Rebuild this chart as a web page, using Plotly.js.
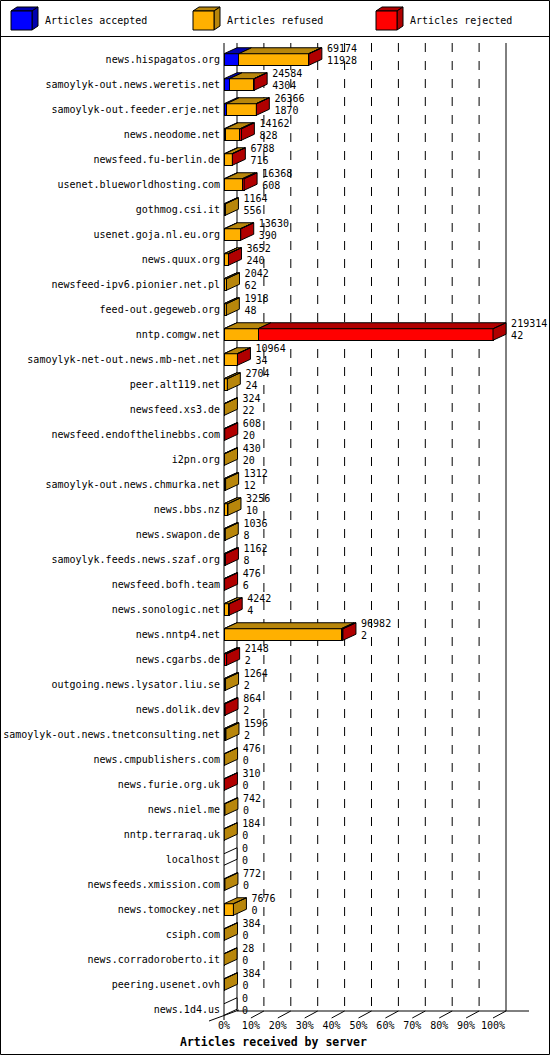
<!DOCTYPE html>
<html>
<head>
<meta charset="utf-8">
<script src="https://cdn.plot.ly/plotly-3.0.1.min.js"></script>
<style>
  html, body { margin: 0; padding: 0; background: #fff; }
  #chart { width: 550px; height: 1055px; }
</style>
</head>
<body>
<div id="chart"></div>
<script>
'use strict';

var servers = [
    'news.hispagatos.org', 'samoylyk-out.news.weretis.net', 'samoylyk-out.feeder.erje.net',
    'news.neodome.net', 'newsfeed.fu-berlin.de', 'usenet.blueworldhosting.com', 'gothmog.csi.it',
    'usenet.goja.nl.eu.org', 'news.quux.org', 'newsfeed-ipv6.pionier.net.pl', 'feed-out.gegeweb.org',
    'nntp.comgw.net', 'samoylyk-net-out.news.mb-net.net', 'peer.alt119.net', 'newsfeed.xs3.de',
    'newsfeed.endofthelinebbs.com', 'i2pn.org', 'samoylyk-out.news.chmurka.net', 'news.bbs.nz',
    'news.swapon.de', 'samoylyk.feeds.news.szaf.org', 'newsfeed.bofh.team', 'news.sonologic.net',
    'news.nntp4.net', 'news.cgarbs.de', 'outgoing.news.lysator.liu.se', 'news.dolik.dev',
    'samoylyk-out.news.tnetconsulting.net', 'news.cmpublishers.com', 'news.furie.org.uk',
    'news.niel.me', 'nntp.terraraq.uk', 'localhost', 'newsfeeds.xmission.com', 'news.tomockey.net',
    'csiph.com', 'news.corradoroberto.it', 'peering.usenet.ovh', 'news.1d4.us'
];

// numbers printed next to each bar
var totals = [69174, 24584, 26366, 14162, 6788, 16368, 1164, 13630, 3652, 2042, 1918,
    219314, 10964, 2704, 324, 608, 430, 1312, 3256, 1036, 1162, 476, 4242,
    96982, 2148, 1264, 864, 1596, 476, 310, 742, 184, 0, 772, 7676, 384, 28, 384, 0];
var accepted = [11928, 4304, 1870, 828, 716, 608, 556, 390, 240, 62, 48,
    42, 34, 24, 22, 20, 20, 12, 10, 8, 8, 6, 4,
    2, 2, 2, 2, 2, 0, 0, 0, 0, 0, 0, 0, 0, 0, 0, 0];

// split
var refused = [57000, 20000, 24300, 12200, 5900, 14300, 608, 13000, 3200, 1980, 1870,
    27700, 10800, 2680, 302, 0, 410, 1300, 3246, 1028, 0, 0, 4000,
    95500, 800, 1262, 0, 1594, 476, 0, 742, 184, 0, 772, 7676, 384, 28, 384, 0];
var rejected = [246, 280, 196, 1134, 172, 1460, 0, 240, 212, 0, 0,
    191572, 130, 0, 0, 588, 0, 0, 0, 0, 1154, 470, 238,
    1480, 1346, 0, 862, 0, 0, 310, 0, 0, 0, 0, 0, 0, 0, 0, 0];

var W = 550, H = 1055;
var ML = 224, MR = 5, MT = 37, MB = 37;
var PW = W - ML - MR, PH = H - MT - MB;
var PXPCT = 2.69;          // pixels per percent
var ROW = 25;              // pixels per row
var DX = 13 / PXPCT;       // depth, in percent
var DY = 6 / ROW;          // depth, in rows
var BARH = 0.46;

var FONT = 'DejaVu Sans Mono, monospace';

function px (x) { return (x - ML) / PW; }
function py (y) { return (H - MB - y) / PH; }

var maxTotal = Math.max.apply(null, totals);
function pct (v) { return v / maxTotal * 100; }

var series = [
    { name: 'Articles accepted', values: accepted, front: '#0000ff', dark: '#0000b0' },
    { name: 'Articles refused', values: refused, front: '#ffb000', dark: '#b8860b' },
    { name: 'Articles rejected', values: rejected, front: '#ff0000', dark: '#b00000' }
];

var rows = servers.map(function (s, i) { return i; });

function pushPoly (xs, ys, pts) {
    pts.forEach(function (p) { xs.push(p[0]); ys.push(p[1]); });
    xs.push(pts[0][0]); ys.push(pts[0][1]);
    xs.push(null); ys.push(null);
}

var traces = [];

// front faces
series.forEach(function (s) {
    traces.push({
        type: 'bar',
        orientation: 'h',
        name: s.name,
        y: rows,
        x: s.values.map(pct),
        width: BARH,
        marker: { color: s.front, line: { color: '#000', width: 1 } },
        hoverinfo: 'none',
        showlegend: false
    });
});

// top and side faces
var faces = series.map(function () { return { x: [], y: [] }; });
var empty = { x: [], y: [] };
var labelX = [];

rows.forEach(function (i) {
    var yT = i - BARH / 2, yB = i + BARH / 2;
    var x0 = 0, last = -1, lastX = 0;
    series.forEach(function (s, k) {
        var v = s.values[i];
        if (v <= 0) return;
        var x1 = x0 + pct(v);
        pushPoly(faces[k].x, faces[k].y, [[x0, yT], [x1, yT], [x1 + DX, yT - DY], [x0 + DX, yT - DY]]);
        last = k; lastX = x1;
        x0 = x1;
    });
    var side = [[lastX, yT], [lastX, yB], [lastX + DX, yB - DY], [lastX + DX, yT - DY]];
    if (last >= 0) pushPoly(faces[last].x, faces[last].y, side);
    else pushPoly(empty.x, empty.y, side);
    labelX.push(lastX + DX + 1.9);
});

faces.forEach(function (f, k) {
    traces.push({
        type: 'scatter', mode: 'lines', x: f.x, y: f.y,
        fill: 'toself', fillcolor: series[k].dark,
        line: { color: '#000', width: 1 },
        hoverinfo: 'none', showlegend: false
    });
});
traces.push({
    type: 'scatter', mode: 'lines', x: empty.x, y: empty.y,
    fill: 'toself', fillcolor: '#fff',
    line: { color: '#000', width: 1 },
    hoverinfo: 'none', showlegend: false
});

// value labels, total on top and accepted below
traces.push({
    type: 'scatter', mode: 'text',
    x: labelX, y: rows.map(function (i) { return i - 0.42; }),
    text: totals.map(String), textposition: 'middle right',
    textfont: { family: FONT, size: 10, color: '#000' },
    cliponaxis: false, hoverinfo: 'none', showlegend: false
});
traces.push({
    type: 'scatter', mode: 'text',
    x: labelX, y: rows.map(function (i) { return i + 0.06; }),
    text: accepted.map(String), textposition: 'middle right',
    textfont: { family: FONT, size: 10, color: '#000' },
    cliponaxis: false, hoverinfo: 'none', showlegend: false
});

// frame, grid and floor
var shapes = [];
function line (x0, y0, x1, y1, dash) {
    shapes.push({
        type: 'line', xref: 'paper', yref: 'paper', layer: 'below',
        x0: px(x0), y0: py(y0), x1: px(x1), y1: py(y1),
        line: { color: '#000', width: 1, dash: dash || 'solid' }
    });
}
var backX = ML + 13;
line(ML, 43, ML, 1020);
line(backX, 43, backX, 1011);
line(backX + 100 * PXPCT, 43, backX + 100 * PXPCT, 1011);
for (var k = 1; k < 10; k++) {
    line(backX + 10 * k * PXPCT, 43, backX + 10 * k * PXPCT, 1011, 'dash');
}
line(backX, 1011, 529, 1011);
line(209, 1021, backX + 2, 1010);
for (var t = 1; t <= 10; t++) {
    line(ML + 10 * t * PXPCT, 1018, backX + 10 * t * PXPCT, 1011);
}
line(0.5, 36.5, 549.5, 36.5);
shapes.push({
    type: 'rect', xref: 'paper', yref: 'paper',
    x0: px(0.5), y0: py(0.5), x1: px(549.5), y1: py(1054.5),
    line: { color: '#000', width: 1 }
});

// legend cubes
var annotations = [];
var legendX = [11, 193, 376];
series.forEach(function (s, k) {
    var x = legendX[k], y = 11, w = 21, h = 19, dx = 6, dy = 4;
    function path (pts) {
        return 'M' + pts.map(function (p) { return px(p[0]) + ',' + py(p[1]); }).join('L') + 'Z';
    }
    shapes.push({ type: 'path', xref: 'paper', yref: 'paper', fillcolor: s.dark,
        line: { color: '#000', width: 1 },
        path: path([[x, y], [x + w, y], [x + w + dx, y - dy], [x + dx, y - dy]]) });
    shapes.push({ type: 'path', xref: 'paper', yref: 'paper', fillcolor: s.dark,
        line: { color: '#000', width: 1 },
        path: path([[x + w, y], [x + w, y + h], [x + w + dx, y + h - dy], [x + w + dx, y - dy]]) });
    shapes.push({ type: 'path', xref: 'paper', yref: 'paper', fillcolor: s.front,
        line: { color: '#000', width: 1 },
        path: path([[x, y], [x + w, y], [x + w, y + h], [x, y + h]]) });
    annotations.push({
        xref: 'paper', yref: 'paper', x: px(x + 32), y: py(21),
        xanchor: 'left', yanchor: 'middle', showarrow: false,
        text: s.name, font: { family: FONT, size: 10, color: '#000' }
    });
});

annotations.push({
    xref: 'paper', yref: 'paper', x: px(178), y: py(1042),
    xanchor: 'left', yanchor: 'middle', showarrow: false,
    text: '<b>Articles received by server</b>',
    font: { family: FONT, size: 11.5, color: '#000' }
});

var tickPct = [0, 10, 20, 30, 40, 50, 60, 70, 80, 90, 100];

Plotly.newPlot('chart', traces, {
    width: W, height: H,
    margin: { l: ML, r: MR, t: MT, b: MB },
    paper_bgcolor: '#fff', plot_bgcolor: 'rgba(0,0,0,0)',
    barmode: 'stack',
    showlegend: false,
    xaxis: {
        range: [0, PW / PXPCT],
        tickvals: tickPct,
        ticktext: tickPct.map(function (v) { return v + '%'; }),
        tickfont: { family: FONT, size: 10, color: '#000' },
        showgrid: false, zeroline: false, showline: false, ticks: ''
    },
    yaxis: {
        range: [(H - MB - 59.5) / ROW, (MT - 59.5) / ROW],
        tickvals: rows,
        ticktext: servers,
        tickfont: { family: FONT, size: 10, color: '#000' },
        showgrid: false, zeroline: false, showline: false,
        ticks: 'outside', ticklen: 1, tickcolor: 'rgba(0,0,0,0)'
    },
    shapes: shapes,
    annotations: annotations
}, { displayModeBar: false, staticPlot: true });
</script>
</body>
</html>
